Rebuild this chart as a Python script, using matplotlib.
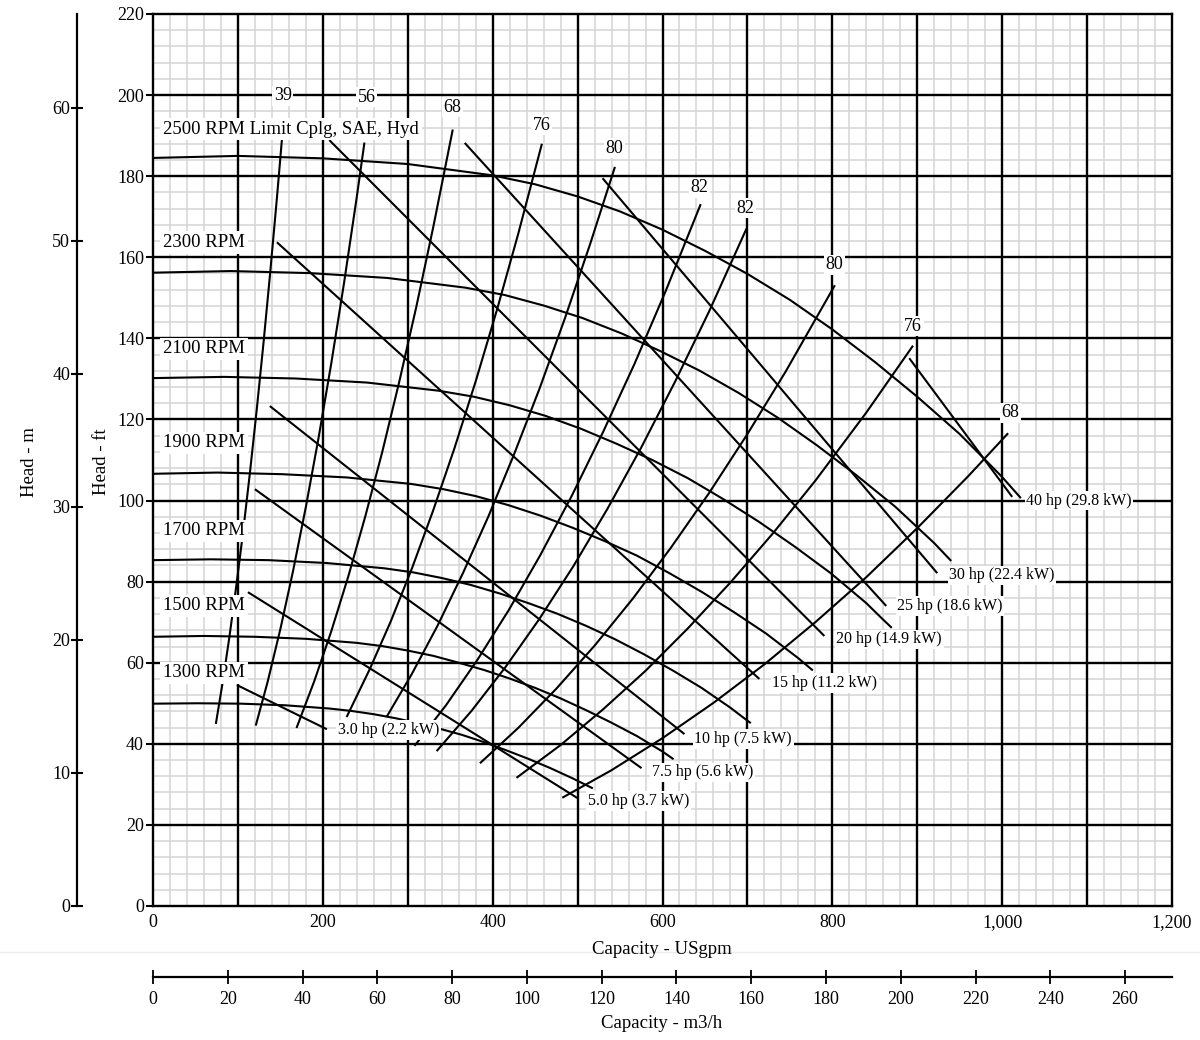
import numpy as np
import matplotlib
matplotlib.use('Agg')
import matplotlib.pyplot as plt

plt.rcParams['font.family'] = ['Liberation Serif', 'DejaVu Serif']

# ---- head curves, USgpm vs ft ----
speed_labels = ['2500 RPM Limit Cplg, SAE, Hyd', '2300 RPM', '2100 RPM', '1900 RPM',
                '1700 RPM', '1500 RPM', '1300 RPM']
q_2500 = [0, 100, 200, 300, 400, 450, 500, 550, 600, 650, 700, 750, 800, 850, 900, 950, 1000, 1022]
h_2500 = [184.5, 185.0, 184.4, 183.0, 180.2, 178.0, 175.0, 171.3, 166.8, 161.6, 155.9, 149.5,
          142.2, 134.2, 125.6, 116.4, 105.8, 100.6]
q_2300 = [0, 92, 184, 276, 368, 414, 460, 506, 552, 598, 644, 690, 736, 782, 828, 874, 920, 940]
h_2300 = [156.2, 156.6, 156.1, 154.9, 152.5, 150.7, 148.1, 145.0, 141.2, 136.8, 132.0, 126.5,
          120.4, 113.6, 106.3, 98.5, 89.5, 85.1]
q_2100 = [0, 84, 168, 252, 336, 378, 420, 462, 504, 546, 588, 630, 672, 714, 756, 798, 840, 858, 870]
h_2100 = [130.2, 130.5, 130.1, 129.1, 127.1, 125.6, 123.5, 120.9, 117.7, 114.0, 110.0, 105.5,
          100.3, 94.7, 88.6, 82.1, 74.7, 71.0, 68.6]
q_1900 = [0, 76, 152, 228, 304, 342, 380, 418, 456, 494, 532, 570, 608, 646, 684, 722, 760, 777]
h_1900 = [106.6, 106.9, 106.5, 105.7, 104.1, 102.8, 101.1, 98.9, 96.3, 93.3, 90.0, 86.4,
          82.1, 77.5, 72.5, 67.2, 61.1, 58.1]
q_1700 = [0, 68, 136, 204, 272, 306, 340, 374, 408, 442, 476, 510, 544, 578, 612, 646, 680, 695, 704]
h_1700 = [85.3, 85.5, 85.3, 84.6, 83.3, 82.3, 80.9, 79.2, 77.1, 74.7, 72.1, 69.1,
          65.8, 62.1, 58.1, 53.8, 48.9, 46.5, 45.1]
q_1500 = [0, 60, 120, 180, 240, 270, 300, 330, 360, 390, 420, 450, 480, 510, 540, 570, 600, 613]
h_1500 = [66.4, 66.6, 66.4, 65.9, 64.9, 64.1, 63.0, 61.7, 60.0, 58.2, 56.1, 53.8,
          51.2, 48.3, 45.2, 41.9, 38.1, 36.2]
q_1300 = [0, 52, 104, 156, 208, 234, 260, 286, 312, 338, 364, 390, 416, 442, 468, 494, 518]
h_1300 = [49.9, 50.0, 49.9, 49.5, 48.7, 48.1, 47.3, 46.3, 45.1, 43.7, 42.2, 40.4,
          38.4, 36.3, 34.0, 31.5, 29.0]
head_q = [q_2500, q_2300, q_2100, q_1900, q_1700, q_1500, q_1300]
head_h = [h_2500, h_2300, h_2100, h_1900, h_1700, h_1500, h_1300]
speed_label_xy = [(11.8, 191.6), (11.8, 163.7), (11.8, 137.4), (11.8, 114.2),
                  (11.8, 92.5), (11.8, 74.0), (11.8, 57.5)]

# ---- efficiency lines (%) ----
eff_labels = ['39', '56', '68', '76', '80', '82', '82', '80', '76', '68']
eff_q = [
    [74, 82, 90, 98, 106, 114, 122, 130, 138, 146, 152],
    [121, 135, 150, 165, 180, 195, 210, 225, 240, 249],
    [169, 190, 210, 230, 250, 270, 290, 310, 330, 353],
    [228, 255, 280, 305, 330, 355, 380, 405, 430, 458],
    [275, 305, 335, 365, 395, 425, 455, 485, 515, 544],
    [308, 345, 382, 419, 456, 493, 530, 567, 604, 645],
    [334, 375, 415, 455, 495, 535, 575, 615, 655, 699],
    [385, 430, 475, 520, 565, 610, 655, 700, 745, 803],
    [428, 480, 530, 580, 630, 680, 730, 780, 840, 895],
    [482, 540, 600, 660, 720, 780, 840, 900, 960, 1007],
]
eff_h = [
    [44.9, 55.1, 66.4, 78.8, 92.1, 106.6, 122.1, 138.6, 156.2, 174.8, 189.5],
    [44.5, 55.3, 68.3, 82.7, 98.4, 115.5, 133.9, 153.7, 174.9, 188.3],
    [43.9, 55.5, 67.8, 81.3, 96.1, 112.0, 129.3, 147.7, 167.4, 191.5],
    [46.6, 58.3, 70.2, 83.3, 97.6, 112.9, 129.4, 147.0, 165.7, 188.0],
    [46.6, 57.3, 69.1, 82.1, 96.1, 111.3, 127.5, 144.9, 163.4, 182.3],
    [39.5, 49.5, 60.7, 73.0, 86.5, 101.1, 116.9, 133.7, 151.8, 173.1],
    [38.2, 48.1, 58.9, 70.8, 83.8, 97.9, 113.1, 129.4, 146.7, 167.1],
    [35.2, 43.9, 53.6, 64.2, 75.8, 88.4, 101.9, 116.4, 131.8, 153.1],
    [31.6, 39.7, 48.5, 58.0, 68.5, 79.8, 91.9, 104.9, 121.7, 138.2],
    [26.7, 33.5, 41.4, 50.1, 59.6, 70.0, 81.1, 93.2, 106.0, 116.6],
]
eff_label_xy = [(152.9, 199.8), (251.8, 199.5), (352.9, 197.0), (457.6, 192.6),
                (543.5, 186.9), (643.5, 177.1), (697.6, 172.1), (802.4, 158.1),
                (895.3, 143.0), (1009.4, 121.6)]

# ---- power lines ----
hp_labels = ['3.0 hp (2.2 kW)', '5.0 hp (3.7 kW)', '7.5 hp (5.6 kW)', '10 hp (7.5 kW)',
             '15 hp (11.2 kW)', '20 hp (14.9 kW)', '25 hp (18.6 kW)', '30 hp (22.4 kW)',
             '40 hp (29.8 kW)']
hp_q = [[98.8, 204.7], [111.8, 500.0], [120.0, 575.3], [137.6, 625.9], [145.9, 714.1],
        [207.6, 790.6], [367.1, 863.5], [529.4, 923.5], [890.6, 1011.8]]
hp_h = [[54.5, 43.6], [77.4, 26.6], [102.8, 34.0], [123.3, 42.4], [163.7, 56.0],
        [188.9, 66.6], [188.2, 74.0], [179.5, 82.1], [135.1, 100.9]]
hp_label_xy = [(217.6, 43.4), (511.8, 25.9), (587.1, 33.0), (637.6, 41.2), (729.4, 55.0),
               (804.7, 65.8), (876.5, 74.0), (937.6, 81.6), (1028.2, 100.0)]

FT_PER_M = 3.28084
GPM_PER_M3H = 4.402868

W, H = 1200, 1040
fig = plt.figure(figsize=(W / 100, H / 100), dpi=100)
ax = fig.add_axes([153 / W, 134 / H, 1019 / W, 892 / H])
ax.set_xlim(0, 1200)
ax.set_ylim(0, 220)

# grid
for x in np.arange(20, 1200, 20):
    ax.axvline(x, color='#d4d4d4', lw=1.1, zorder=0.5)
for y in np.arange(4, 220, 4):
    ax.axhline(y, color='#d4d4d4', lw=1.1, zorder=0.5)
for x in np.arange(100, 1200, 100):
    ax.axvline(x, color='black', lw=1.7, zorder=0.8)
for y in np.arange(20, 220, 20):
    ax.axhline(y, color='black', lw=1.7, zorder=0.8)

ax.set_xticks(np.arange(0, 1201, 200))
ax.set_xticklabels([f'{v:,}' for v in range(0, 1201, 200)])
ax.set_yticks(np.arange(0, 221, 20))
ax.tick_params(axis='x', length=0, pad=6, labelsize=13)
ax.tick_params(axis='y', length=5, width=1.5, pad=1.5, labelsize=13)
for s in ax.spines.values():
    s.set_linewidth(1.7)
    s.set_zorder(3)

lw = 1.5
for q, h in zip(head_q, head_h):
    ax.plot(q, h, color='black', lw=lw, zorder=2, solid_capstyle='butt', solid_joinstyle='round')
for q, h in zip(eff_q, eff_h):
    ax.plot(q, h, color='black', lw=lw, zorder=2, solid_capstyle='butt', solid_joinstyle='round')
for q, h in zip(hp_q, hp_h):
    ax.plot(q, h, color='black', lw=lw, zorder=2, solid_capstyle='butt')

box = dict(facecolor='white', edgecolor='none', pad=2.0)
for lab, (x, y) in zip(speed_labels, speed_label_xy):
    ax.text(x, y, lab, fontsize=13.5, ha='left', va='center', bbox=box, zorder=4)
for lab, (x, y) in zip(eff_labels, eff_label_xy):
    ax.text(x, y, lab, fontsize=13, ha='center', va='center',
            bbox=dict(facecolor='white', edgecolor='none', pad=1.2), zorder=4)
for lab, (x, y) in zip(hp_labels, hp_label_xy):
    ax.text(x, y, lab, fontsize=11.5, ha='left', va='center',
            bbox=dict(facecolor='white', edgecolor='none', pad=1.2), zorder=4)

# metre head scale
axm = fig.add_axes([77 / W, 134 / H, 0.001, 892 / H])
axm.set_ylim(0, 220 / FT_PER_M)
axm.set_yticks(np.arange(0, 61, 10))
axm.set_xticks([])
for side in ['right', 'top', 'bottom']:
    axm.spines[side].set_visible(False)
axm.spines['left'].set_linewidth(1.6)
axm.patch.set_visible(False)
axm.tick_params(axis='y', direction='inout', length=8, width=1.5, pad=1, labelsize=13)

# m3/h capacity scale
axc = fig.add_axes([153 / W, (H - 977) / H, 1019 / W, 0.001])
axc.set_xlim(0, 1200 / GPM_PER_M3H)
axc.set_xticks(np.arange(0, 261, 20))
axc.set_yticks([])
for side in ['left', 'right', 'top']:
    axc.spines[side].set_visible(False)
axc.spines['bottom'].set_linewidth(1.6)
axc.patch.set_visible(False)
axc.tick_params(axis='x', direction='inout', length=10, width=1.3, pad=5, labelsize=13)

# faint seam line across the page
fig.add_artist(plt.Line2D([0, 1], [1 - 952 / H, 1 - 952 / H], color='#ececec', lw=1.0))

fig.text(662 / W, 1 - 949 / H, 'Capacity - USgpm', ha='center', va='center', fontsize=13.5)
fig.text(662 / W, 1 - 1024 / H, 'Capacity - m3/h', ha='center', va='center', fontsize=13.5)
fig.text(30 / W, 1 - 462 / H, 'Head - m', ha='center', va='center', rotation=90, fontsize=13.5)
fig.text(101 / W, 1 - 462 / H, 'Head - ft', ha='center', va='center', rotation=90, fontsize=13.5)

fig.savefig('out.png', dpi=100, facecolor='white')
